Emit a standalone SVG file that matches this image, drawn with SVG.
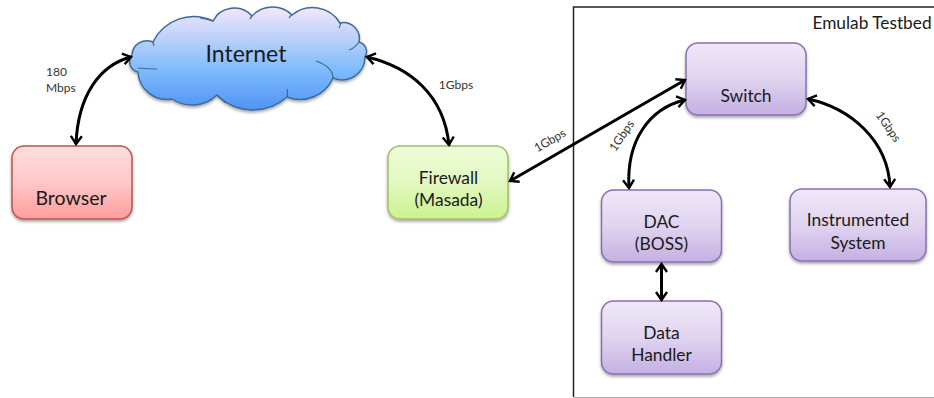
<svg xmlns="http://www.w3.org/2000/svg" width="934" height="398" viewBox="0 0 934 398">
<style>
text{font-family:Lato,"Noto Sans","Liberation Sans",sans-serif;fill:#1a1a1a;text-anchor:middle}
.n{font-size:17.4px}
.s{font-size:12px;fill:#333}
.box{stroke-width:1.5}
.p{fill:url(#purple);stroke:#8a6fb0}
.c{fill:none;stroke:#000;stroke-width:3;marker-start:url(#a);marker-end:url(#a)}
</style>
<defs>
<linearGradient id="purple" x1="0" y1="0" x2="0" y2="1"><stop offset="0" stop-color="#efe8f8"/><stop offset=".5" stop-color="#e0d4f0"/><stop offset="1" stop-color="#c4b0e2"/></linearGradient>
<linearGradient id="red" x1="0" y1="0" x2="0" y2="1"><stop offset="0" stop-color="#ffdcdc"/><stop offset=".5" stop-color="#ffc8c8"/><stop offset="1" stop-color="#ff9c9c"/></linearGradient>
<linearGradient id="green" x1="0" y1="0" x2="0" y2="1"><stop offset="0" stop-color="#eefcd8"/><stop offset=".5" stop-color="#e2f8c0"/><stop offset="1" stop-color="#ccf290"/></linearGradient>
<linearGradient id="blue" x1="0" y1="0" x2="0" y2="1"><stop offset="0" stop-color="#f5e6f8"/><stop offset=".6" stop-color="#80bcfc"/><stop offset="1" stop-color="#4f94f4"/></linearGradient>
<filter id="sh" x="-10%" y="-10%" width="120%" height="125%"><feDropShadow dx="0" dy="2" stdDeviation="1.5" flood-color="#000" flood-opacity=".35"/></filter>
<marker id="a" viewBox="0 0 14 14" refX="12" refY="7" markerWidth="14" markerHeight="14" markerUnits="userSpaceOnUse" orient="auto-start-reverse"><path d="M4 1.500L12 7L4 12.500" fill="none" stroke="#000" stroke-width="2.400"/></marker>
</defs>
<g id="testbed">
<path d="M934 7H573.500V397" fill="none" stroke="#222" stroke-width="1.500"/>
<path d="M574 397.500H934" fill="none" stroke="#aaa" stroke-width="1"/>
<text x="872" y="29" style="font-size:17.300px">Emulab Testbed</text>
</g>
<g id="internet">
<path d="M132 55A15 15 0 0 1 153 42A45 45 0 0 1 213 21A24 24 0 0 1 252 16A28 28 0 0 1 292 15A32 32 0 0 1 340 23A16 16 0 0 1 359 42A10 10 0 0 1 365 57A23 23 0 0 1 333 78A36 36 0 0 1 287 97A51 51 0 0 1 217 95A36 36 0 0 1 172 99A29 29 0 0 1 138 72A10.600 10.600 0 0 1 132 55Z" fill="url(#blue)" stroke="#3d6a96" stroke-width="1.500" filter="url(#sh)"/>
<path d="M153 42Q153 44 154 46M138 68Q147 69 157 69M200 18Q207 19 213 21M252 16Q251 17 250 19M292 15Q290 16 289 18M340 23Q341 25 339 28M359 42Q355 48 349 50M333 78Q333 67 316 61M287 97Q288 93 287 89M217 95Q221 99 226 103" fill="none" stroke="#3d6a96" stroke-width="1.200"/>
<text x="246" y="62" style="font-size:23px">Internet</text>
</g>
<g id="browser">
<rect class="box" x="12" y="146" width="120" height="73" rx="12" fill="url(#red)" stroke="#b85450" filter="url(#sh)"/>
<text x="71" y="205" style="font-size:19.500px">Browser</text>
</g>
<g id="firewall">
<rect class="box" x="388" y="146" width="120" height="73" rx="12" fill="url(#green)" stroke="#a0c060" filter="url(#sh)"/>
<text class="n" x="448.500" y="184">Firewall</text>
<text class="n" x="448.500" y="206">(Masada)</text>
</g>
<g id="switch">
<rect class="box p" x="686" y="43" width="120" height="72" rx="12" filter="url(#sh)"/>
<text class="n" x="746" y="102">Switch</text>
</g>
<g id="dac">
<rect class="box p" x="601.500" y="190" width="120" height="72" rx="12" filter="url(#sh)"/>
<text class="n" x="661.500" y="228">DAC</text>
<text class="n" x="661.500" y="250">(BOSS)</text>
</g>
<g id="instrumented">
<rect class="box p" x="790" y="189" width="136" height="72" rx="12" filter="url(#sh)"/>
<text class="n" x="858" y="226">Instrumented</text>
<text class="n" x="858" y="249">System</text>
</g>
<g id="datahandler">
<rect class="box p" x="601.500" y="301" width="120" height="73" rx="12" filter="url(#sh)"/>
<text class="n" x="661.500" y="339">Data</text>
<text class="n" x="661.500" y="361">Handler</text>
</g>
<g id="connectors">
<path class="c" d="M131 57C100 65 78 95 76 144"/>
<path class="c" d="M367 57C410 67 444 95 449 145"/>
<path class="c" d="M510 181L685 80"/>
<path class="c" d="M685 100C650 108 626 140 629 188"/>
<path class="c" d="M808 99C850 108 888 140 890 187"/>
<path class="c" d="M661.500 264V300"/>
</g>
<g id="labels">
<text class="s" x="46" y="76" style="text-anchor:start">180</text>
<text class="s" x="46" y="92" style="text-anchor:start">Mbps</text>
<text class="s" x="456" y="89">1Gbps</text>
<text class="s" transform="translate(552 144) rotate(-30)">1Gbps</text>
<text class="s" transform="translate(625 138) rotate(-56)">1Gbps</text>
<text class="s" transform="translate(885 129) rotate(55)">1Gbps</text>
</g>
</svg>
